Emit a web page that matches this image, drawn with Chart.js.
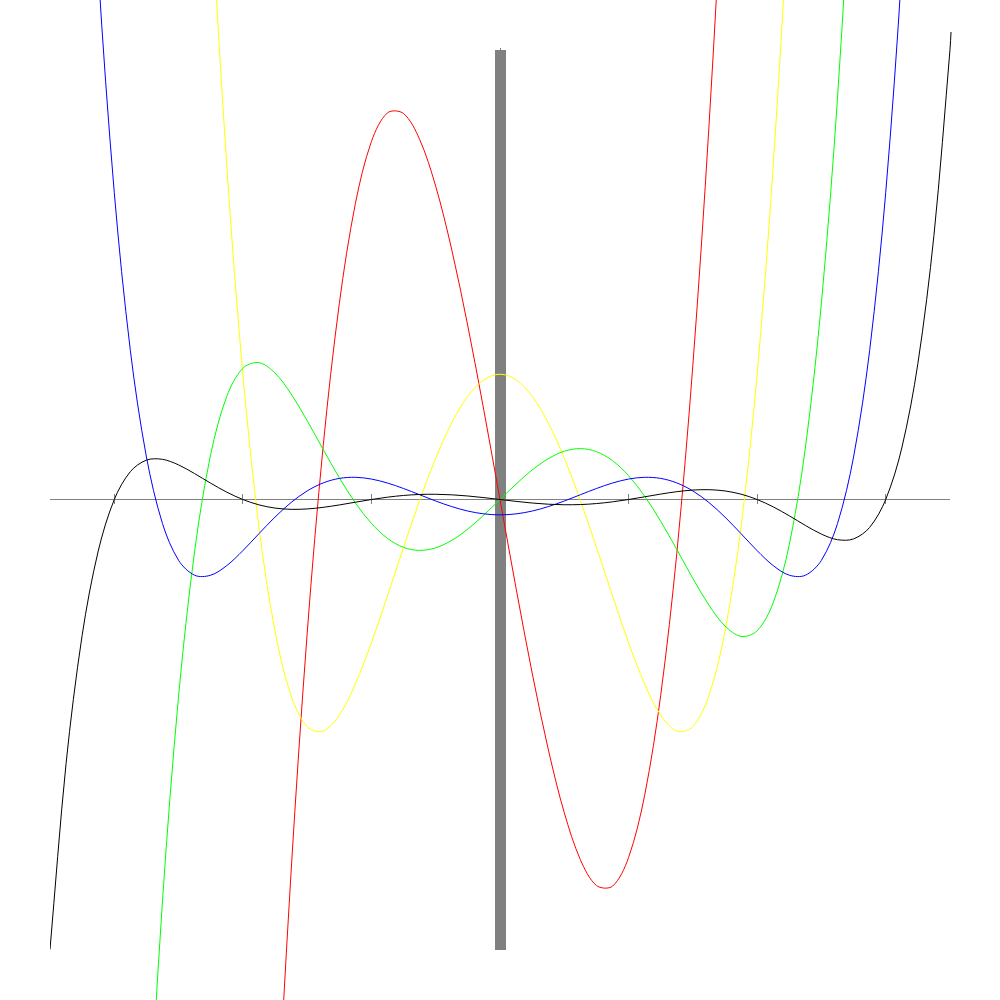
<!DOCTYPE html>
<html>
<head>
<meta charset="utf-8">
<title>Polynomial and its derivatives</title>
<script src="https://cdn.jsdelivr.net/npm/chart.js@4/dist/chart.umd.min.js"></script>
<style>
  html, body { margin: 0; padding: 0; background: #ffffff; }
  #wrap { width: 1000px; height: 1000px; }
</style>
</head>
<body>
<div id="wrap"><canvas id="c" width="1000" height="1000"></canvas></div>
<script>
// x positions (step 0.125 from -3.5 to 3.5, last sample slightly past the end)
const xs = [-3.5,-3.375,-3.25,-3.125,-3,-2.875,-2.75,-2.625,-2.5,-2.375,-2.25,-2.125,-2,-1.875,-1.75,-1.625,-1.5,-1.375,-1.25,-1.125,-1,-0.875,-0.75,-0.625,-0.5,-0.375,-0.25,-0.125,0,0.125,0.25,0.375,0.5,0.625,0.75,0.875,1,1.125,1.25,1.375,1.5,1.625,1.75,1.875,2,2.125,2.25,2.375,2.5,2.625,2.75,2.875,3,3.125,3.25,3.375,3.5,3.508];

// black curve (degree 7)
const blackVals = [-1055.74,-619.59,-318.67,-120.92,0,65.44,92.42,94.28,81.21,60.75,38.24,17.27,0,-12.53,-20.09,-23.05,-22.15,-18.37,-12.75,-6.32,0,5.46,9.52,11.84,12.30,11.02,8.25,4.40,0,-4.40,-8.25,-11.02,-12.30,-11.84,-9.52,-5.46,0,6.32,12.75,18.37,22.15,23.05,20.09,12.53,0,-17.27,-38.24,-60.75,-81.21,-94.28,-92.42,-65.44,0,120.92,318.67,619.59,1055.74,1097];

// blue curve (degree 6)
const blueVals = [null,null,1955.98,1243.09,720,349.59,99.86,-56.53,-142.64,-177.73,-177.61,-155.02,-120,-80.21,-41.28,-7.04,20.11,39.02,49.49,52.11,48,38.66,25.79,11.16,-3.52,-16.69,-27.08,-33.72,-36,-33.72,-27.08,-16.69,-3.52,11.16,25.79,38.66,48,52.11,49.49,39.02,20.11,-7.04,-41.28,-80.21,-120,-155.02,-177.61,-177.73,-142.64,-56.53,99.86,349.59,720,1243.09,1955.98,null,null,null];

// green curve (degree 5)
const greenVals = [null,null,null,null,null,-2441.13,-1590.98,-941.89,-461.56,-120.95,105.94,242.16,308,321.13,296.78,247.83,185.06,117.22,51.20,-7.76,-56,-91.21,-112.34,-119.40,-113.31,-95.80,-69.17,-36.20,0,36.20,69.17,95.80,113.31,119.40,112.34,91.21,56,7.76,-51.20,-117.22,-185.06,-247.83,-296.78,-321.13,-308,-242.16,-105.94,120.95,461.56,941.89,1590.98,2441.13,null,null,null,null,null,null];

// yellow curve (degree 4)
const yellowVals = [null,null,null,null,null,null,null,null,null,2237.37,1423.57,782.96,294,-63.61,-308.93,-459.82,-532.88,-543.49,-505.81,-432.75,-336,-226.03,-112.06,-2.08,97.13,180.03,242.32,280.93,294,280.93,242.32,180.03,97.13,-2.08,-112.06,-226.03,-336,-432.75,-505.81,-543.49,-532.88,-459.82,-308.93,-63.61,294,782.96,1423.57,2237.37,null,null,null,null,null,null,null,null,null,null];

// red curve (degree 3)
const redVals = [null,null,null,null,null,null,null,null,null,null,null,null,null,-2387.11,-1561.88,-874.45,-315,126.33,459.38,693.98,840,907.27,905.63,844.92,735,585.70,406.88,208.36,0,-208.36,-406.88,-585.70,-735,-844.92,-905.63,-907.27,-840,-693.98,-459.38,-126.33,315,874.45,1561.88,2387.11,null,null,null,null,null,null,null,null,null,null,null,null,null,null];

// axes: horizontal extent, tick positions, vertical extent
const xAxisExtent = [-3.5, 3.5];
const tickXs = [-3, -2, -1, 1, 2, 3];
const yAxisExtent = [-1055.74, 1055.74];

const series = [
  { vals: blackVals,  color: '#000000' },
  { vals: blueVals,   color: '#0000ff' },
  { vals: greenVals,  color: '#00ff00' },
  { vals: yellowVals, color: '#ffff00' },
  { vals: redVals,    color: '#ff0000' }
];

const axesPlugin = {
  id: 'axesPlugin',
  beforeDatasetsDraw(chart) {
    const ctx = chart.ctx;
    const xS = chart.scales.x, yS = chart.scales.y;
    const x0 = xS.getPixelForValue(0);
    const y0 = yS.getPixelForValue(0);
    const xl = xS.getPixelForValue(xAxisExtent[0]);
    const xr = xS.getPixelForValue(xAxisExtent[1]);
    ctx.save();
    ctx.fillStyle = '#808080';
    // horizontal axis line
    ctx.fillRect(Math.round(xl), Math.floor(y0), Math.round(xr - xl), 1);
    // vertical thick axis bar
    const yt = Math.round(yS.getPixelForValue(yAxisExtent[1]));
    const yb = Math.round(yS.getPixelForValue(yAxisExtent[0])) + 1;
    ctx.fillRect(Math.round(x0) - 5, yt, 11, yb - yt);
    ctx.fillRect(Math.round(x0), yt - 2, 1, 2);
    // tick marks
    tickXs.forEach(t => {
      const px = Math.floor(xS.getPixelForValue(t));
      ctx.fillRect(px, Math.floor(y0) - 5, 1, 10);
    });
    ctx.restore();
  }
};

new Chart(document.getElementById('c'), {
  type: 'line',
  data: {
    datasets: series.map(s => ({
      data: xs.map((x, i) => ({ x: x, y: s.vals[i] })),
      borderColor: s.color,
      borderWidth: 1,
      pointRadius: 0,
      fill: false,
      tension: 0.33,
      spanGaps: false
    }))
  },
  options: {
    responsive: false,
    animation: false,
    devicePixelRatio: 1,
    events: [],
    elements: { line: { capBezierPoints: false } },
    layout: { padding: { left: 50, right: 47.43, top: 0, bottom: 0 } },
    plugins: { legend: { display: false }, tooltip: { enabled: false } },
    scales: {
      x: { type: 'linear', min: -3.5, max: 3.52, display: false },
      y: { type: 'linear', min: -1174.3, max: 1172.0, display: false }
    }
  },
  plugins: [axesPlugin]
});
</script>
</body>
</html>
